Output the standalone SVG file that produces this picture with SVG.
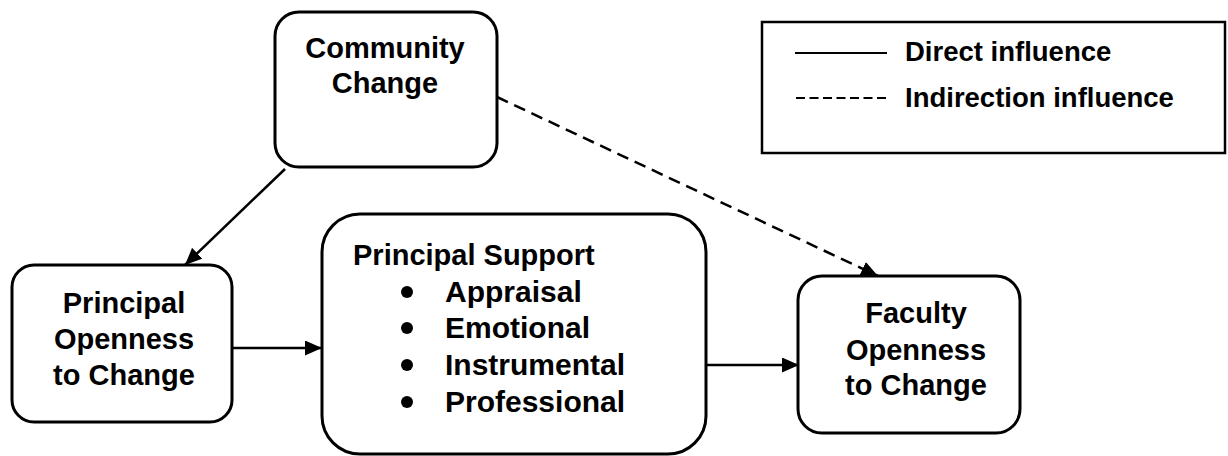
<svg xmlns="http://www.w3.org/2000/svg" width="1228" height="456" viewBox="0 0 1228 456">
<defs>
<style>
.box{fill:#fff;stroke:#000;stroke-width:3}
.t{font-family:"Liberation Sans",Arial,sans-serif;font-weight:bold;font-size:29px;fill:#000}
.b{font-size:30px}
.c{text-anchor:middle}
.lg{font-family:"Liberation Sans",Arial,sans-serif;font-weight:bold;font-size:27.5px;fill:#000}
.ln{stroke:#000;stroke-width:2.5;fill:none}
.dash{stroke-dasharray:12 7}
</style>
<marker id="ah" viewBox="0 0 17 15" refX="17" refY="7.5" markerWidth="17" markerHeight="15" markerUnits="userSpaceOnUse" orient="auto">
<path d="M0,0 L17,7.5 L0,15 Z" fill="#000"/>
</marker>
</defs>
<rect width="1228" height="456" fill="#fff"/>
<g id="community">
<rect class="box" x="275" y="12" width="222" height="155" rx="24"/>
<text class="t c" x="385" y="58">Community</text>
<text class="t c" x="385" y="93">Change</text>
</g>
<g id="legend">
<rect x="762" y="22" width="463" height="131" fill="#fff" stroke="#000" stroke-width="2.5"/>
<line x1="795" y1="53" x2="887" y2="53" stroke="#000" stroke-width="2"/>
<text class="lg" x="905" y="61">Direct influence</text>
<line x1="796" y1="98" x2="887" y2="98" stroke="#000" stroke-width="2" stroke-dasharray="9 4.5"/>
<text class="lg" x="905" y="107">Indirection influence</text>
</g>
<g id="principal-openness">
<rect class="box" x="12" y="265" width="220" height="157" rx="22"/>
<text class="t c" x="124" y="313">Principal</text>
<text class="t c" x="124" y="349">Openness</text>
<text class="t c" x="124" y="385">to Change</text>
</g>
<g id="principal-support">
<rect class="box" x="322" y="214" width="384" height="240" rx="38"/>
<text class="t" x="353" y="265">Principal Support</text>
<circle cx="407" cy="292" r="6"/>
<text class="t b" x="445" y="302">Appraisal</text>
<circle cx="407" cy="328" r="6"/>
<text class="t b" x="445" y="338">Emotional</text>
<circle cx="407" cy="365" r="6"/>
<text class="t b" x="445" y="375">Instrumental</text>
<circle cx="407" cy="402" r="6"/>
<text class="t b" x="445" y="412">Professional</text>
</g>
<g id="faculty-openness">
<rect class="box" x="798" y="276" width="222" height="157" rx="24"/>
<text class="t c" x="916" y="323">Faculty</text>
<text class="t c" x="916" y="360">Openness</text>
<text class="t c" x="916" y="395">to Change</text>
</g>
<g id="connectors">
<line class="ln" x1="285" y1="169" x2="185" y2="265" marker-end="url(#ah)"/>
<line class="ln" x1="232" y1="348" x2="322" y2="348" marker-end="url(#ah)"/>
<line class="ln" x1="706" y1="365" x2="799" y2="365" marker-end="url(#ah)"/>
<line class="ln dash" x1="497" y1="97" x2="878" y2="276" marker-end="url(#ah)"/>
</g>
</svg>
